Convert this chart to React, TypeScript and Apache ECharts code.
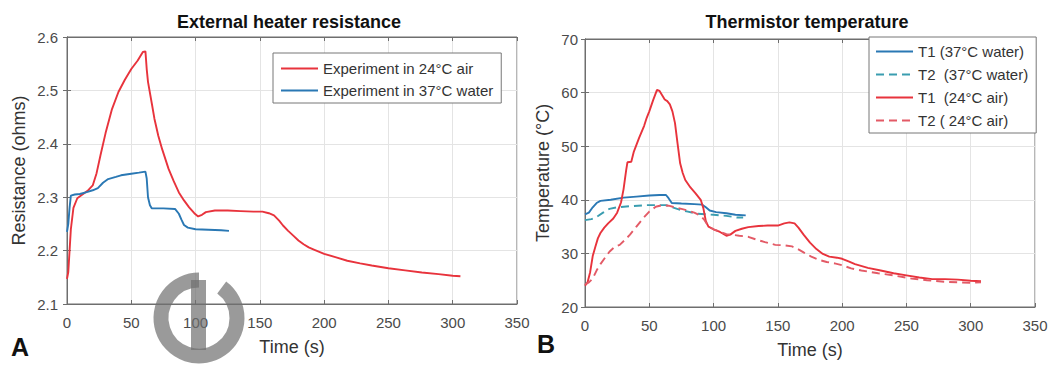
import React, { useEffect, useRef } from "react";
import * as echarts from "echarts";

// ---- Panel A: external heater resistance ----
const A_AIR_T = [0, 1, 2, 3, 5, 8, 12, 16, 20, 23, 26, 30, 35, 40, 45, 50, 55, 59, 61, 62, 63, 66, 68, 71, 74, 79, 83, 87, 91, 95, 99, 102, 105, 108, 115, 125, 135, 145, 152, 157, 161, 165, 168, 172, 176, 180, 184, 188, 192, 200, 210, 218, 228, 237, 250, 263, 276, 289, 300, 306];
const A_AIR_R = [2.147, 2.16, 2.2, 2.24, 2.28, 2.298, 2.305, 2.312, 2.322, 2.345, 2.378, 2.42, 2.465, 2.497, 2.52, 2.54, 2.556, 2.572, 2.573, 2.54, 2.516, 2.475, 2.447, 2.415, 2.39, 2.353, 2.33, 2.309, 2.294, 2.281, 2.27, 2.264, 2.267, 2.272, 2.275, 2.275, 2.274, 2.273, 2.273, 2.27, 2.266, 2.256, 2.247, 2.237, 2.228, 2.219, 2.212, 2.206, 2.202, 2.194, 2.187, 2.181, 2.176, 2.172, 2.167, 2.163, 2.159, 2.156, 2.153, 2.152];
const A_WATER_T = [0, 1, 2, 3, 6, 10, 16, 20, 24, 28, 32, 38, 42, 50, 56, 61, 62, 63, 64.5, 66, 75, 84, 87, 89, 91, 94, 100, 110, 120, 126];
const A_WATER_R = [2.235, 2.25, 2.28, 2.303, 2.305, 2.306, 2.31, 2.313, 2.317, 2.327, 2.334, 2.338, 2.341, 2.344, 2.346, 2.348, 2.335, 2.3, 2.285, 2.279, 2.279, 2.278, 2.269, 2.258, 2.248, 2.243, 2.24, 2.239, 2.238, 2.237];

// ---- Panel B: thermistor temperature ----
const B_T1W_T = [0, 3, 6, 9, 12, 20, 30, 40, 50, 58, 63, 65, 67.5, 75, 85, 91, 94, 97, 102, 110, 117, 125];
const B_T1W_V = [37.3, 37.6, 38.6, 39.4, 39.8, 40.0, 40.4, 40.6, 40.8, 40.9, 40.9, 40.3, 39.4, 39.3, 39.2, 39.1, 38.6, 38.0, 37.7, 37.5, 37.2, 37.1];
const B_T2W_T = [0, 5, 9, 14, 19, 25, 35, 48, 63, 68, 74, 80, 87, 100, 110, 118, 123];
const B_T2W_V = [36.2, 36.4, 36.8, 37.6, 38.3, 38.6, 38.8, 39.0, 39.0, 38.6, 38.1, 37.8, 37.4, 37.2, 37.0, 36.7, 36.7];
const B_T1A_T = [0, 2, 4, 6, 8, 10, 12, 15, 18, 22, 25, 28, 30, 32, 33, 36, 38, 42, 46, 48, 50, 53, 56, 58, 60, 62, 64, 66, 68, 70, 72, 74, 76, 78, 82, 86, 90, 92, 94, 96, 100, 105, 110, 113, 117, 122, 127, 135, 142, 150, 155, 159, 163, 166, 170, 175, 180, 185, 190, 196, 200, 205, 210, 220, 230, 240, 250, 260, 270, 280, 290, 300, 308];
const B_T1A_V = [24.0, 24.6, 26.5, 29.5, 31.2, 32.8, 33.8, 34.8, 35.6, 36.5, 37.6, 39.5, 42.0, 45.5, 47.0, 47.1, 49.0, 51.5, 53.8, 55.3, 56.5, 58.6, 60.5, 60.3, 59.5, 58.7, 58.4, 57.8, 56.5, 54.3, 50.5, 46.8, 45.0, 43.7, 42.3, 41.2, 40.0, 38.5, 36.0, 35.0, 34.5, 34.0, 33.3, 33.5, 34.2, 34.6, 34.9, 35.1, 35.2, 35.2, 35.6, 35.8, 35.6, 34.8, 33.5, 32.0, 30.8, 29.9, 29.4, 29.2, 29.0, 28.5, 28.0, 27.3, 26.8, 26.3, 25.9, 25.5, 25.2, 25.2, 25.1, 24.9, 24.8];
const B_T2A_T = [0, 3, 6, 9, 12, 15, 19, 23, 27, 31, 35, 40, 45, 50, 55, 60, 65, 70, 75, 80, 85, 90, 93, 96, 100, 105, 110, 120, 127, 133, 140, 148, 155, 161, 165, 170, 176, 182, 188, 195, 200, 207, 215, 228, 240, 254, 266, 280, 290, 300, 308];
const B_T2A_V = [24.2, 24.6, 25.3, 26.8, 28.0, 29.0, 30.3, 31.2, 31.6, 32.5, 33.5, 35.0, 36.5, 37.8, 38.7, 39.0, 38.9, 38.6, 38.3, 38.0, 37.6, 37.0, 36.2, 35.0, 34.5, 34.0, 33.6, 33.3, 33.1, 32.6, 32.1, 31.6, 31.5, 31.3, 30.9, 30.2, 29.4, 28.8, 28.4, 28.1, 27.8, 27.2, 26.8, 26.3, 25.9, 25.3, 25.0, 24.7, 24.6, 24.5, 24.6];

const NAMES_A = ["Experiment in 24°C air", "Experiment in 37°C water"];
const NAMES_B = ["T1 (37°C water)", "T2  (37°C water)", "T1  (24°C air)", "T2 ( 24°C air)"];

const RED = "#e8333c";
const RED_DASH = "#e35a66";
const BLUE = "#2a78b4";
const BLUE_DASH = "#3a9db0";

const FONT = "'Liberation Sans', Arial, Helvetica, sans-serif";

const zip = (t: number[], v: number[]) => t.map((x, i) => [x, v[i]]);

function makeX(gridIndex: number) {
  return [
    {
      type: "value", gridIndex, min: 0, max: 350, interval: 50,
      axisLine: { show: true, lineStyle: { color: "#6e6e6e" } },
      axisTick: { show: true, inside: true, length: 4, lineStyle: { color: "#6e6e6e" } },
      splitLine: { show: true, lineStyle: { color: "#e4e4e4" } },
      axisLabel: { color: "#4a4a4a", fontSize: 15, margin: 11, fontFamily: FONT },
      name: "Time (s)", nameLocation: "middle", nameGap: 34,
      nameTextStyle: { color: "#333", fontSize: 18, fontFamily: FONT },
    },
    {
      type: "value", gridIndex, min: 0, max: 350, interval: 50, position: "top",
      axisLine: { show: true, lineStyle: { color: "#6e6e6e" } },
      axisTick: { show: true, inside: true, length: 4, lineStyle: { color: "#6e6e6e" } },
      splitLine: { show: false }, axisLabel: { show: false },
    },
  ];
}

function makeY(gridIndex: number, min: number, max: number, interval: number, name: string, gap: number, margin: number, fmt: (v: number) => string) {
  return [
    {
      type: "value", gridIndex, min, max, interval,
      axisLine: { show: true, lineStyle: { color: "#6e6e6e" } },
      axisTick: { show: true, inside: true, length: 4, lineStyle: { color: "#6e6e6e" } },
      splitLine: { show: true, lineStyle: { color: "#e4e4e4" } },
      axisLabel: { color: "#4a4a4a", fontSize: 15, margin, fontFamily: FONT, formatter: fmt },
      name, nameLocation: "middle", nameGap: gap,
      nameTextStyle: { color: "#333", fontSize: 18, fontFamily: FONT },
    },
    {
      type: "value", gridIndex, min, max, interval, position: "right",
      axisLine: { show: true, lineStyle: { color: "#6e6e6e" } },
      axisTick: { show: true, inside: true, length: 4, lineStyle: { color: "#6e6e6e" } },
      splitLine: { show: false }, axisLabel: { show: false },
    },
  ];
}

function line(name: string, xi: number, yi: number, data: number[][], color: string, dashed: boolean) {
  return {
    type: "line", name, xAxisIndex: xi, yAxisIndex: yi, data,
    symbol: "none", showSymbol: false, smooth: false,
    lineStyle: { color, width: 1.9, type: dashed ? [8, 5] : "solid" },
    itemStyle: { color },
  };
}

export default function App() {
  const ref = useRef<HTMLDivElement>(null);
  useEffect(() => {
    if (!ref.current) return;
    const chart = echarts.init(ref.current, undefined, { renderer: "svg" });
    const legendCommon = {
      orient: "vertical", itemWidth: 37, itemHeight: 14,
      borderColor: "#777", borderWidth: 1, backgroundColor: "#fff", borderRadius: 0,
      itemStyle: { opacity: 0 },
      textStyle: { fontSize: 15, color: "#333", fontFamily: FONT },
    };
    const option: any = {
      animation: false,
      backgroundColor: "#ffffff",
      textStyle: { fontFamily: FONT },
      grid: [
        { left: 67, top: 37, width: 450, height: 267, show: true, borderColor: "#6e6e6e", borderWidth: 1, backgroundColor: "transparent" },
        { left: 585, top: 39, width: 450, height: 268, show: true, borderColor: "#6e6e6e", borderWidth: 1, backgroundColor: "transparent" },
      ],
      xAxis: [...makeX(0), ...makeX(1)],
      yAxis: [
        ...makeY(0, 2.1, 2.6, 0.1, "Resistance (ohms)", 39, 9, (v: number) => v.toFixed(1)),
        ...makeY(1, 20, 70, 10, "Temperature (°C)", 33, 7, (v: number) => String(Math.round(v))),
      ],
      legend: [
        { ...legendCommon, data: NAMES_A, left: 273, top: 53, itemGap: 7, padding: [8, 8, 5, 7] },
        { ...legendCommon, data: NAMES_B, left: 869, top: 37, itemGap: 8, padding: [7, 8, 5, 6] },
      ],
      series: [
        line(NAMES_A[0], 0, 0, zip(A_AIR_T, A_AIR_R), RED, false),
        line(NAMES_A[1], 0, 0, zip(A_WATER_T, A_WATER_R), BLUE, false),
        line(NAMES_B[0], 2, 2, zip(B_T1W_T, B_T1W_V), BLUE, false),
        line(NAMES_B[1], 2, 2, zip(B_T2W_T, B_T2W_V), BLUE_DASH, true),
        line(NAMES_B[2], 2, 2, zip(B_T1A_T, B_T1A_V), RED, false),
        line(NAMES_B[3], 2, 2, zip(B_T2A_T, B_T2A_V), RED_DASH, true),
      ],
      graphic: [
        { type: "text", x: 289, y: 13, z: 10, style: { text: "External heater resistance", textAlign: "center", font: `bold 18px ${FONT}`, fill: "#111" } },
        { type: "text", x: 807, y: 13, z: 10, style: { text: "Thermistor temperature", textAlign: "center", font: `bold 18px ${FONT}`, fill: "#111" } },
        { type: "text", x: 11, y: 334, z: 10, style: { text: "A", font: `bold 25px ${FONT}`, fill: "#111" } },
        { type: "text", x: 537, y: 331, z: 10, style: { text: "B", font: `bold 25px ${FONT}`, fill: "#111" } },
        {
          type: "arc", z: 20,
          shape: { cx: 199, cy: 318, r: 38, startAngle: -0.93, endAngle: Math.PI * 1.5, clockwise: true },
          style: { stroke: "#6f6f6f", lineWidth: 15, fill: "none", opacity: 0.7 },
        },
        {
          type: "rect", z: 20,
          shape: { x: 191, y: 280, width: 15, height: 70 },
          style: { fill: "#6f6f6f", opacity: 0.7 },
        },
      ],
    };
    chart.setOption(option);
    return () => chart.dispose();
  }, []);
  return <div ref={ref} style={{ position: "fixed", left: 0, top: 0, width: 1052, height: 365 }} />;
}
